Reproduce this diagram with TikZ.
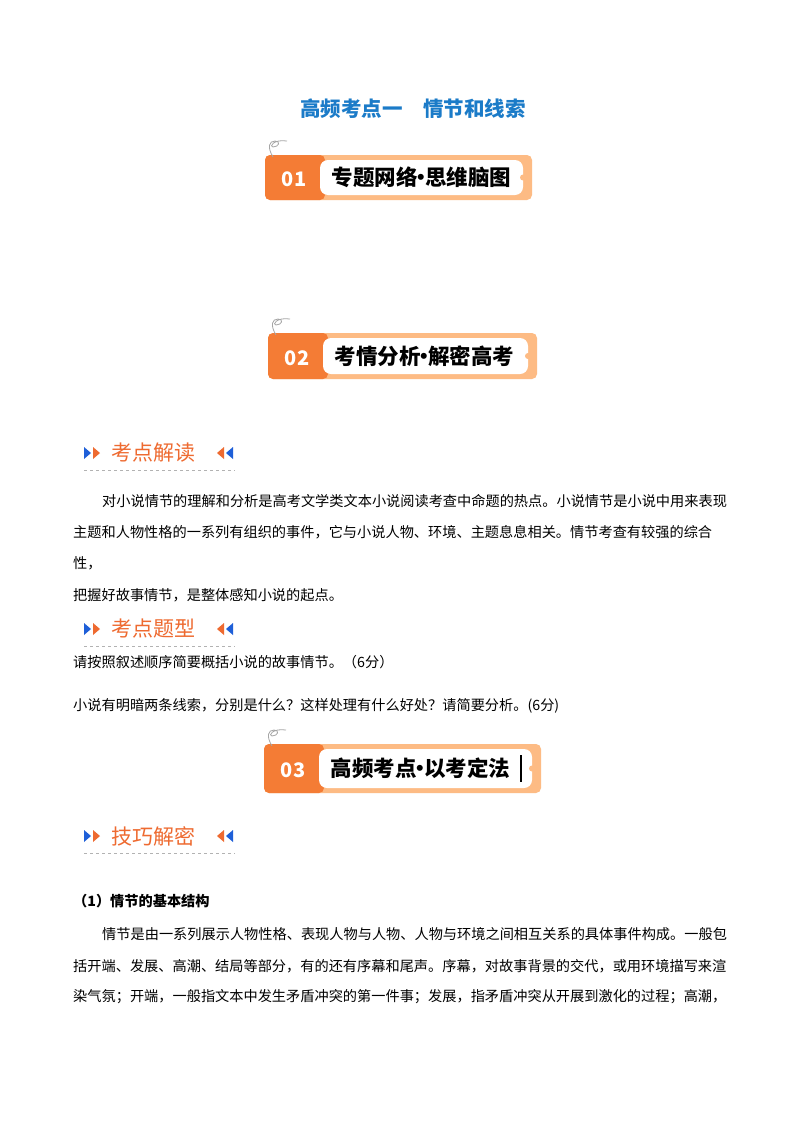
\documentclass[tikz,border=0pt]{standalone}
\usepackage{fontspec}
\newfontfamily\cjk{Noto Sans CJK SC}
\setmainfont{Noto Sans CJK SC}
\definecolor{tblue}{HTML}{1B7BC8}
\definecolor{dor}{HTML}{F47C35}
\definecolor{lor}{HTML}{FDBB84}
\definecolor{hor}{HTML}{EE6A30}
\definecolor{hbl}{HTML}{1E5FD8}
\tikzset{body/.style={anchor=west,inner sep=0,font=\fontsize{14.2}{16}\selectfont},
 tri/.style={inner sep=0}}
\newcommand\mdot{\kern-0.32em·\kern-0.32em}
\newcommand\mybanner[6]{% x0 y0 x1 y1 num label
 \fill[lor,rounded corners=5pt] (#1,#2) rectangle (#3,#4);
 \fill[dor,rounded corners=5pt] (#1,#2) rectangle (#1+60,#4);
 \fill[white,rounded corners=8pt] (#1+55,#2+5) rectangle (#3-9,#4-5);
 \fill[lor] (#3-9,{(#2+#4)/2}) circle (3);
 \draw[gray!70,line width=0.8pt] (#1+8,#2+2) .. controls (#1+2,#2-8) and (#1+4,#2-14) .. (#1+10,#2-14) .. controls (#1+16,#2-14) and (#1+14,#2-8) .. (#1+8,#2-8) .. controls (#1+4,#2-8) and (#1+8,#2-16) .. (#1+22,#2-14);
 \node[white,font=\bfseries\fontsize{20}{20}\selectfont] (n#5) at (#1+29,{(#2+#4)/2+2}) {#5};
 \node[font=\bfseries\fontsize{21.5}{22}\selectfont,anchor=west] (l#5) at (#1+63,{(#2+#4)/2}) {#6};
}
\newcommand\myhead[3]{% y label name
 \fill[hbl] (84,#1-6) -- (91,#1) -- (84,#1+6) -- cycle;
 \fill[hor] (93,#1-6) -- (100,#1) -- (93,#1+6) -- cycle;
 \node[hor,anchor=west,inner sep=0,font=\fontsize{21}{22}\selectfont] (#3) at (111,#1) {#2};
 \fill[hor] (224,#1-6) -- (217,#1) -- (224,#1+6) -- cycle;
 \fill[hbl] (233,#1-6) -- (226,#1) -- (233,#1+6) -- cycle;
 \draw[gray!60,dashed,line width=0.5pt] (84,#1+17) -- (235,#1+17);
}
\begin{document}
\begin{tikzpicture}[x=1pt,y=-1pt]
\useasboundingbox (0,0) rectangle (800,1132);
\fill[white] (0,0) rectangle (800,1132);
\node[tblue,font=\bfseries\fontsize{20.5}{22}\selectfont] (title) at (413,109) {高频考点一\quad 情节和线索};
\mybanner{265}{155}{532}{200}{01}{专题网络\mdot 思维脑图}
\mybanner{268}{333}{537}{379}{02}{考情分析\mdot 解密高考}
\mybanner{264}{744}{541}{793}{03}{高频考点\mdot 以考定法}
\draw[line width=1.2pt] (521,755) -- (521,782);
\myhead{453}{考点解读}{h1}
\node[body] (p1) at (102,501) {对小说情节的理解和分析是高考文学类文本小说阅读考查中命题的热点。小说情节是小说中用来表现};
\node[body] (p2) at (73,532) {主题和人物性格的一系列有组织的事件，它与小说人物、环境、主题息息相关。情节考查有较强的综合};
\node[body] (p3) at (73,563) {性，};
\node[body] (p4) at (73,595) {把握好故事情节，是整体感知小说的起点。};
\myhead{629}{考点题型}{h2}
\node[body] (q1) at (73,662) {请按照叙述顺序简要概括小说的故事情节。（6分）};
\node[body] (q2) at (73,706) {小说有明暗两条线索，分别是什么？这样处理有什么好处？请简要分析。(6分)};
\myhead{836}{技巧解密}{h3}
\node[body,font=\bfseries\fontsize{14.2}{16}\selectfont] (s1) at (73,901) {（1）情节的基本结构};
\node[body] (r1) at (102,934) {情节是由一系列展示人物性格、表现人物与人物、人物与环境之间相互关系的具体事件构成。一般包};
\node[body] (r2) at (73,966) {括开端、发展、高潮、结局等部分，有的还有序幕和尾声。序幕，对故事背景的交代，或用环境描写来渲};
\node[body] (r3) at (73,997) {染气氛；开端，一般指文本中发生矛盾冲突的第一件事；发展，指矛盾冲突从开展到激化的过程；高潮，};
\end{tikzpicture}
\end{document}
